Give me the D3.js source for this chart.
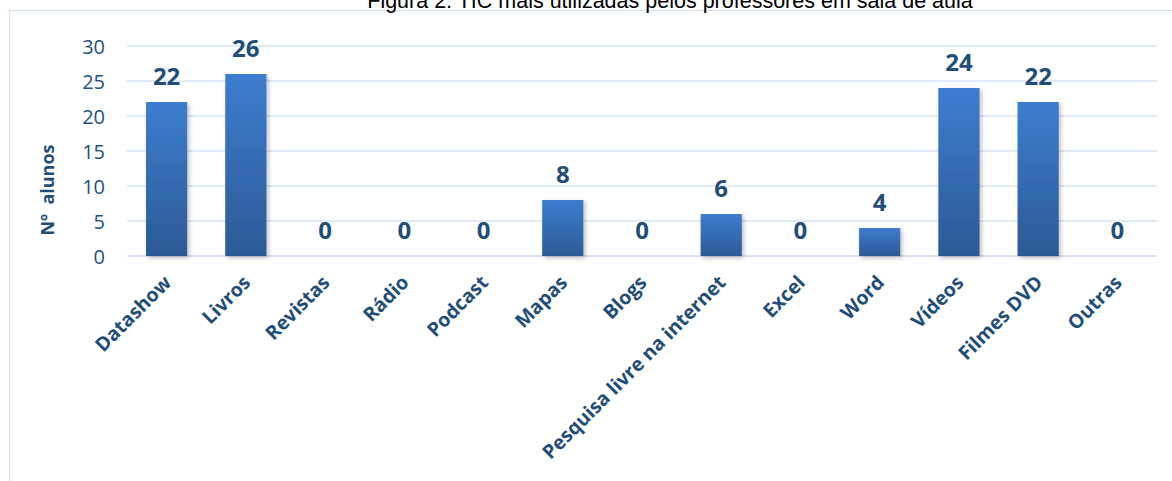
<!DOCTYPE html>
<html><head><meta charset="utf-8">
<script src="https://cdn.jsdelivr.net/npm/d3@7"></script>
<style>html,body{margin:0;padding:0;background:#fff;overflow:hidden}</style>
</head><body>
<svg id="chart" width="1172" height="481"></svg>
<script>
const categories = ["Datashow","Livros","Revistas","Rádio","Podcast","Mapas","Blogs","Pesquisa livre na internet","Excel","Word","Vídeos","Filmes DVD","Outras"];
const values = [22,26,0,0,0,8,0,6,0,4,24,22,0];
const yTicks = [0,5,10,15,20,25,30];
const title = "Figura 2: TIC mais utilizadas pelos professores em sala de aula";
const yTitle = "Nº  alunos";

const svg = d3.select("#chart");
const navy = "#1f4e79";
const grid = "#d9e3f3";

const defs = svg.append("defs");
const grad = defs.append("linearGradient").attr("id","barGrad").attr("x1",0).attr("y1",0).attr("x2",0).attr("y2",1);
grad.append("stop").attr("offset","0%").attr("stop-color","#3d7dcf");
grad.append("stop").attr("offset","100%").attr("stop-color","#2c5a96");
const f = defs.append("filter").attr("id","shadow").attr("x","-20%").attr("y","-10%").attr("width","150%").attr("height","130%");
f.append("feDropShadow").attr("dx",2).attr("dy",2).attr("stdDeviation",2).attr("flood-color","#000").attr("flood-opacity",0.25);

// frame
svg.append("rect").attr("x",9.5).attr("y",10.5).attr("width",1200).attr("height",500)
  .attr("fill","none").attr("stroke","#d6e2f3").attr("stroke-width",1.2);

// title
svg.append("text").attr("x",670).attr("y",8).attr("text-anchor","middle")
  .attr("font-family","'Liberation Sans', Arial, sans-serif").attr("font-size",21.5).attr("fill","#000")
  .text(title);

const x = d3.scaleBand().domain(categories).range([127,1157]).paddingInner(0.48).paddingOuter(0.24);
const y = d3.scaleLinear().domain([0,30]).range([256,46]);

// gridlines
svg.append("g").selectAll("line").data(yTicks).join("line")
  .attr("x1",127).attr("x2",1157).attr("y1",d=>y(d)).attr("y2",d=>y(d))
  .attr("stroke",grid).attr("stroke-width",d=>d===0?2:1.5);

// y axis labels
const yAxis = d3.axisLeft(y).tickValues(yTicks).tickSize(0).tickPadding(0);
const ya = svg.append("g").attr("transform","translate(105,0)").call(yAxis);
ya.select(".domain").remove();
ya.selectAll("text").attr("font-family","'Open Sans', sans-serif").attr("font-size",20)
  .attr("fill","#254f80").attr("dy","0.35em");

// y title
svg.append("text").attr("transform","translate(54,190) rotate(-90)").attr("text-anchor","middle")
  .attr("font-family","'Open Sans', sans-serif").attr("font-weight","bold").attr("font-size",18)
  .attr("fill",navy).attr("xml:space","preserve").style("white-space","pre").text(yTitle);

// bars
svg.append("g").selectAll("rect").data(categories).join("rect")
  .attr("x",d=>x(d)).attr("width",x.bandwidth())
  .attr("y",(d,i)=>y(values[i])).attr("height",(d,i)=>y(0)-y(values[i]))
  .attr("fill","url(#barGrad)").attr("filter","url(#shadow)");

// value labels
svg.append("g").selectAll("text").data(categories).join("text")
  .attr("x",d=>x(d)+x.bandwidth()/2).attr("y",(d,i)=>y(values[i])-17)
  .attr("text-anchor","middle").attr("font-family","'Open Sans', sans-serif")
  .attr("font-weight","bold").attr("font-size",24).attr("fill",navy)
  .text((d,i)=>values[i]);

// x labels
const xAxis = d3.axisBottom(x).tickSize(0).tickPadding(0);
const xa = svg.append("g").attr("transform","translate(0,256)").call(xAxis);
xa.select(".domain").remove();
xa.selectAll("text").attr("font-family","'Open Sans', sans-serif").attr("font-weight","bold")
  .attr("font-size",19.5).attr("fill",navy).attr("text-anchor","end")
  .attr("transform","translate(1,23) rotate(-45)").attr("dy","0.35em").attr("y",0);
</script>
</body></html>
